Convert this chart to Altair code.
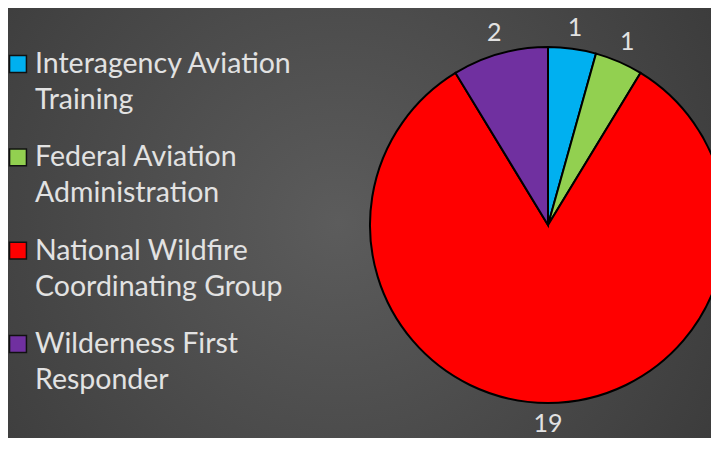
import altair as alt
import pandas as pd

categories = ["Interagency Aviation\nTraining", "Federal Aviation\nAdministration",
              "National Wildfire\nCoordinating Group", "Wilderness First\nResponder"]
values = [1, 1, 19, 2]
colors = ["#00B0F0", "#92D050", "#FF0000", "#7030A0"]
order = [0, 1, 2, 3]

df = pd.DataFrame({"cat": categories, "value": values, "idx": order,
                   "label": [str(v) for v in values]})

W, H = 703, 430
CX, CY = 540, 217
FONT = "Lato"
TEXT_COLOR = "#e2e2e2"

color_scale = alt.Scale(domain=categories, range=colors)

bg = alt.Chart(pd.DataFrame({"a": [0]})).mark_rect(
    fill=alt.Gradient(gradient="radial", x1=0.47, y1=0.5, x2=0.47, y2=0.5, r1=0, r2=0.75,
                      stops=[alt.GradientStop(color="#5c5c5c", offset=0),
                             alt.GradientStop(color="#353535", offset=1)]),
    strokeWidth=0
).encode(x=alt.value(0), x2=alt.value(W), y=alt.value(0), y2=alt.value(H))

base = alt.Chart(df).encode(
    theta=alt.Theta("value:Q", stack=True),
    order=alt.Order("idx:O"),
)

pie = base.mark_arc(outerRadius=178, stroke="black", strokeWidth=2, clip=True).encode(
    color=alt.Color("cat:N", scale=color_scale, legend=None),
    x=alt.value(CX), y=alt.value(CY),
)

labels = base.mark_text(radius=199, font=FONT, fontSize=25, color=TEXT_COLOR,
                        baseline="middle", align="center").encode(
    text="label:N", x=alt.value(CX), y=alt.value(CY),
)

yscale = alt.Scale(domain=[0, 3], range=[65, 345])

leg_sq = alt.Chart(df).mark_square(size=285, stroke="#111111", strokeWidth=1.5,
                                   opacity=1, yOffset=-9).encode(
    x=alt.value(10),
    y=alt.Y("idx:Q", scale=yscale, axis=None),
    color=alt.Color("cat:N", scale=color_scale, legend=None),
)

leg_txt = alt.Chart(df).mark_text(font=FONT, fontSize=28.5, color=TEXT_COLOR, align="left",
                                  baseline="alphabetic", lineBreak="\n", lineHeight=36).encode(
    x=alt.value(27),
    y=alt.Y("idx:Q", scale=yscale, axis=None),
    text="cat:N",
)

chart = alt.layer(bg, pie, labels, leg_sq, leg_txt).resolve_scale(
    y="independent"
).properties(
    width=W, height=H, padding=0, autosize=alt.AutoSizeParams(type="none"),
    background="#3a3a3a",
).configure_view(strokeWidth=0)

chart.save("out.html", embed_options={"renderer": "svg", "actions": False})
